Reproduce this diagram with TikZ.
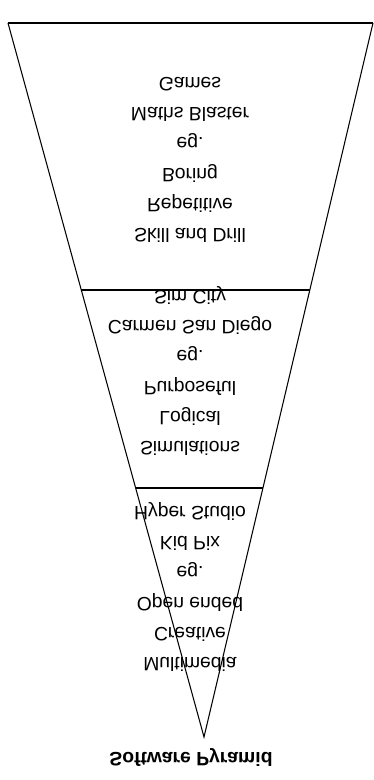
\documentclass[tikz,border=0pt]{standalone}
\usepackage{fontspec}
\setmainfont{Liberation Sans}
\usetikzlibrary{positioning, calc}

\tikzset{
  level/.style={yscale=-1, align=center, font=\fontsize{11}{17.2}\selectfont},
  side/.style={line width=0.6pt},
  band/.style={line width=1.1pt}
}

\begin{document}
\begin{tikzpicture}[x=0.02cm, y=-0.02cm]
    \useasboundingbox (0,0) rectangle (374,780);
    % the pyramid, upside down
    \coordinate (tl) at (8,23);
    \coordinate (tr) at (373,23);
    \coordinate (apex) at (204,737);
    \coordinate (l1) at ($(tl)!0.374!(apex)$);
    \coordinate (r1) at ($(tr)!0.374!(apex)$);
    \coordinate (l2) at ($(tl)!0.651!(apex)$);
    \coordinate (r2) at ($(tr)!0.651!(apex)$);
    \draw[side] (tl) -- (apex) -- (tr);
    \draw[band] (tl) -- (tr);
    \draw[band] (l1) -- (r1);
    \draw[band] (l2) -- (r2);

    \node[level] (drill) at (190,160)
         {Skill and Drill\\Repetitive\\Boring\\eg.\\Maths Blaster\\Games};
    \node[level] (simul) at (190,371)
         {Simulations\\Logical\\Purposeful\\eg.\\Carmen San Diego\\Sim City};
    \node[level] (media) at (190,587)
         {Multimedia\\Creative\\Open ended\\eg.\\Kid Pix\\Hyper Studio};
    \node[yscale=-1, font=\fontsize{11}{13}\selectfont\bfseries]
         (title) at (191,757) {Software Pyramid};
\end{tikzpicture}
\end{document}
